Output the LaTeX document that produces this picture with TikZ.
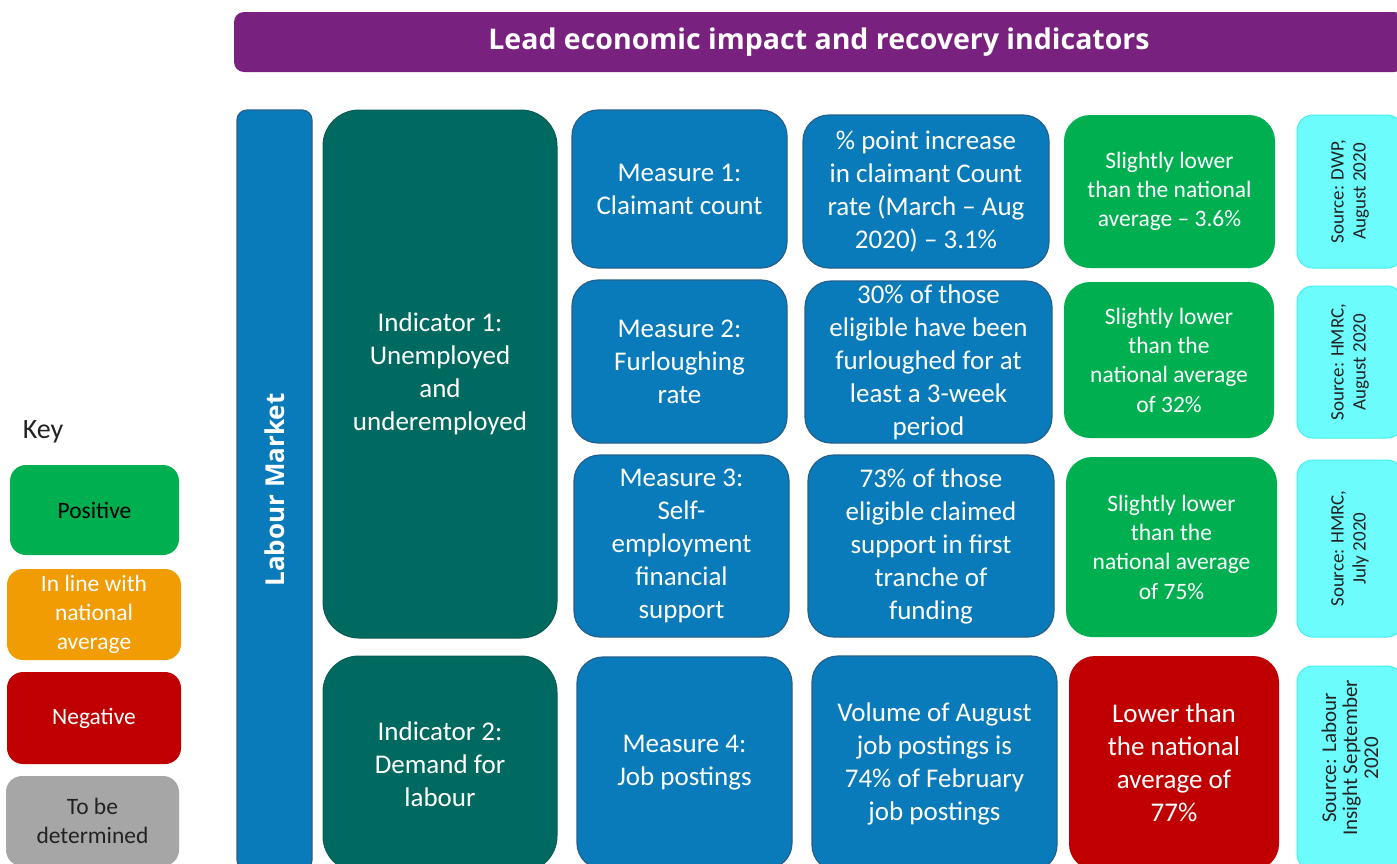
\documentclass[tikz,border=0pt]{standalone}
\usepackage{fontspec}
\setmainfont{Carlito}
\newfontfamily\headfont{Open Sans}
\definecolor{cpurple}{HTML}{78217E}
\definecolor{cblue}{HTML}{0A7BBA}
\definecolor{cblueb}{HTML}{245F8C}
\definecolor{cteal}{HTML}{006A60}
\definecolor{ctealb}{HTML}{0F5A55}
\definecolor{cgreen}{HTML}{00B050}
\definecolor{cred}{HTML}{C00000}
\definecolor{ccyan}{HTML}{6CFCFC}
\definecolor{ccyanb}{HTML}{45EEF0}
\definecolor{corange}{HTML}{F29C03}
\definecolor{cgrey}{HTML}{A6A6A6}
\definecolor{ctext}{HTML}{222222}
\tikzset{
  bx/.style={rectangle, align=center, inner sep=0pt, text=white},
  bigtxt/.style={font=\fontsize{27}{33}\selectfont},
  midtxt/.style={font=\fontsize{23.5}{29.3}\selectfont},
  srctxt/.style={font=\fontsize{19}{22}\selectfont, text=ctext, align=center, inner sep=0pt},
  bluebox/.style={bx, bigtxt, fill=cblue, draw=cblueb, line width=1.2pt, rounded corners=26pt},
  tealbox/.style={bx, bigtxt, fill=cteal, draw=ctealb, line width=1pt, rounded corners=36pt},
  greenbox/.style={bx, midtxt, fill=cgreen, rounded corners=26pt},
  cyanbox/.style={rectangle, fill=ccyan, draw=ccyanb, line width=1pt, rounded corners=16pt},
  keybox/.style={bx, midtxt, rounded corners=16pt},
}
\begin{document}
\begin{tikzpicture}[x=1pt,y=-1pt]
\useasboundingbox (0,0) rectangle (1397,863);
\clip (0,0) rectangle (1397,863);
% header
\node[bx, fill=cpurple, rounded corners=10pt, minimum width=1170pt, minimum height=60pt,
  font=\headfont\bfseries\fontsize{28.5}{33}\selectfont] (header) at (819,42) {Lead economic impact and recovery indicators};
% labour market
\node[rectangle, fill=cblue, draw=cblueb, line width=1.2pt, rounded corners=10pt, minimum width=75pt, minimum height=760pt] (lm) at (274.5,490) {};
\node[rotate=90, text=white, font=\headfont\bfseries\fontsize{26}{30}\selectfont, inner sep=0pt] (lmt) at (lm.center) {Labour Market};
% indicators
\node[tealbox, minimum width=234pt, minimum height=528pt] (ind1) at (440,374) {Indicator 1:\\Unemployed\\and\\underemployed};
\node[tealbox, minimum width=234pt, minimum height=216pt] (ind2) at (440,764) {Indicator 2:\\Demand for\\labour};
% measures
\node[bluebox, minimum width=215pt, minimum height=158pt] (m1) at (679.5,189) {Measure 1:\\Claimant count};
\node[bluebox, minimum width=215pt, minimum height=163pt] (m2) at (679.5,361.5) {Measure 2:\\Furloughing\\rate};
\node[bluebox, minimum width=215pt, minimum height=182pt] (m3) at (681.5,546) {Measure 3:\\Self-\\employment\\financial\\support};
\node[bluebox, minimum width=215pt, minimum height=212pt] (m4) at (684.5,763) {Measure 4:\\Job postings};
% values
\node[bluebox, minimum width=246pt, minimum height=153pt] (v1) at (926,191.5) {\% point increase\\in claimant Count\\rate (March -- Aug\\2020) -- 3.1\%};
\node[bluebox, minimum width=247pt, minimum height=162pt] (v2) at (928.5,362) {30\% of those\\eligible have been\\furloughed for at\\least a 3-week\\period};
\node[bluebox, minimum width=246pt, minimum height=182pt] (v3) at (931,546) {73\% of those\\eligible claimed\\support in first\\tranche of\\funding};
\node[bluebox, minimum width=245pt, minimum height=215pt] (v4) at (934.5,763.5) {Volume of August\\job postings is\\74\% of February\\job postings};
% ratings
\node[greenbox, minimum width=211pt, minimum height=153pt] (g1) at (1169.5,191.5) {Slightly lower\\than the national\\average -- 3.6\%};
\node[greenbox, minimum width=210pt, minimum height=156pt] (g2) at (1169,360) {Slightly lower\\than the\\national average\\of 32\%};
\node[greenbox, minimum width=211pt, minimum height=180pt] (g3) at (1171.5,547) {Slightly lower\\than the\\national average\\of 75\%};
\node[bx, bigtxt, fill=cred, rounded corners=26pt, minimum width=210pt, minimum height=214pt] (r4) at (1174,763) {Lower than\\the national\\average of\\77\%};
% sources
\node[cyanbox, minimum width=106pt, minimum height=153pt] (s1) at (1350,191.5) {};
\node[srctxt, rotate=90] (s1t) at (s1.center) {Source: DWP,\\August 2020};
\node[cyanbox, minimum width=106pt, minimum height=152pt] (s2) at (1350,362) {};
\node[srctxt, rotate=90] (s2t) at (s2.center) {Source: HMRC,\\August 2020};
\node[cyanbox, minimum width=106pt, minimum height=177pt] (s3) at (1350,548.5) {};
\node[srctxt, rotate=90] (s3t) at (s3.center) {Source: HMRC,\\July 2020};
\node[cyanbox, minimum width=106pt, minimum height=204pt] (s4) at (1350,768) {};
\node[srctxt, rotate=90, font=\fontsize{21}{21}\selectfont] (s4t) at (1350,758) {Source: Labour\\Insight September\\2020};
% key
\node[font=\fontsize{28}{33}\selectfont, text=ctext, inner sep=0pt] (keyt) at (43,432) {Key};
\node[keybox, fill=cgreen, text=black, minimum width=169pt, minimum height=90pt] (k1) at (94.5,510) {Positive};
\node[keybox, fill=corange, minimum width=174pt, minimum height=91pt] (k2) at (94,614.5) {In line with\\national\\average};
\node[keybox, fill=cred, minimum width=174pt, minimum height=92pt] (k3) at (94,718) {Negative};
\node[keybox, fill=cgrey, text=ctext, minimum width=173pt, minimum height=90pt] (k4) at (92.5,821) {To be\\determined};
\end{tikzpicture}
\end{document}
